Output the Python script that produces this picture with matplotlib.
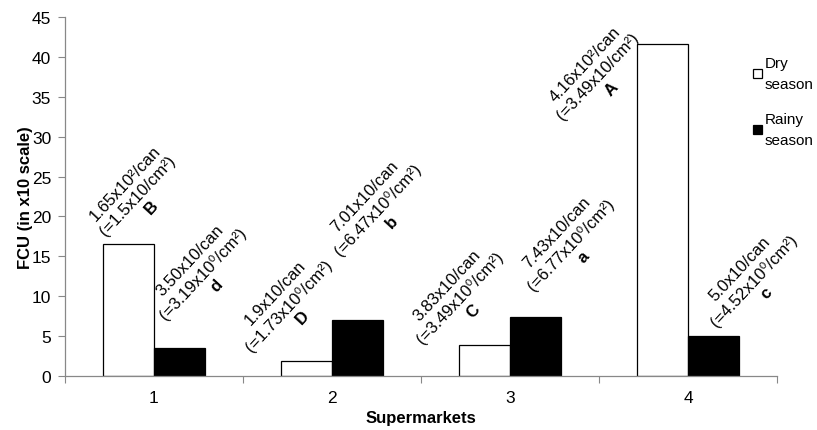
import matplotlib
matplotlib.use("Agg")
import matplotlib.pyplot as plt
import numpy as np

plt.rcParams['font.family'] = ['Liberation Sans', 'DejaVu Sans']
plt.rcParams['mathtext.fontset'] = 'custom'
plt.rcParams['mathtext.rm'] = 'Liberation Sans'
plt.rcParams['mathtext.bf'] = 'Liberation Sans:bold'

categories = ["1", "2", "3", "4"]
dry = [16.5, 1.9, 3.83, 41.6]
rainy = [3.50, 7.01, 7.43, 5.0]
dry_labels = ["1.65x10\u00b2/can\n(=1.5x10/cm\u00b2)", "1.9x10/can\n(=1.73x10\u2070/cm\u00b2)",
              "3.83x10/can\n(=3.49x10\u2070/cm\u00b2)", "4.16x10\u00b2/can\n(=3.49x10/cm\u00b2)"]
dry_letters = ["B", "D", "C", "A"]
rainy_labels = ["3.50x10/can\n(=3.19x10\u2070/cm\u00b2)", "7.01x10/can\n(=6.47x10\u2070/cm\u00b2)",
                "7.43x10/can\n(=6.77x10\u2070/cm\u00b2)", "5.0x10/can\n(=4.52x10\u2070/cm\u00b2)"]
rainy_letters = ["d", "b", "a", "c"]

# label offsets (pixels) of the label centre relative to the bar top centre
dry_off = [(10, 49), (-17, 56), (-24, 48), (-64, -32)]
rainy_off = [(24, 75), (21, 111), (35, 73), (40, 56)]

fig = plt.figure(figsize=(8.17, 4.31), dpi=100)
ax = fig.add_axes([65/817, 1-377/431, (777-65)/817, (377-18)/431])

x = np.arange(len(categories))
w = 0.287
b1 = ax.bar(x - w/2, dry, w, color='white', edgecolor='black', linewidth=0.9, label='Dry\nseason')
b2 = ax.bar(x + w/2, rainy, w, color='black', edgecolor='black', linewidth=0.9, label='Rainy\nseason')

def place(xs, vals, labels, letters, offs):
    for xi, v, lab, let, (dx, dy) in zip(xs, vals, labels, letters, offs):
        txt = lab + "\n" + r"$\mathbf{" + let + "}$"
        ax.annotate(txt, xy=(xi, v), xytext=(dx, dy), textcoords='offset pixels',
                    ha='center', va='center', rotation=47, rotation_mode='anchor',
                    fontsize=12, linespacing=1.22, multialignment='center')

place(x - w/2, dry, dry_labels, dry_letters, dry_off)
place(x + w/2, rainy, rainy_labels, rainy_letters, rainy_off)

ax.set_xlim(-0.5, 3.5)
ax.set_ylim(0, 45)
ax.set_yticks(np.arange(0, 46, 5))
ax.set_xticks(np.arange(-0.5, 3.6, 1.0))
ax.set_xticklabels([])
ax.set_xticks(x, minor=True)
ax.set_xticklabels(categories, minor=True)
ax.tick_params(axis='x', which='minor', length=0, labelsize=12.5, pad=10)
ax.tick_params(axis='x', which='major', length=5, color='#888888', direction='out')
ax.tick_params(axis='y', length=5, color='#888888', direction='out', labelsize=12.5, pad=5)
for s in ['top', 'right']:
    ax.spines[s].set_visible(False)
for s in ['left', 'bottom']:
    ax.spines[s].set_color('#888888')
    ax.spines[s].set_linewidth(0.9)

ax.set_ylabel('FCU (in x10 scale)', fontsize=12, fontweight='bold', labelpad=-1)
ax.set_xlabel('Supermarkets', fontsize=12, fontweight='bold', labelpad=4)

leg = fig.legend(handles=[b1, b2], loc='upper left', bbox_to_anchor=(747/817, 1-51/431),
                 frameon=False, fontsize=11, handlelength=0.55, handleheight=0.55,
                 handletextpad=0.2, labelspacing=1.4, borderaxespad=0)
for t in leg.get_texts():
    t.set_linespacing(1.6)

fig.savefig('out.png', dpi=100)
